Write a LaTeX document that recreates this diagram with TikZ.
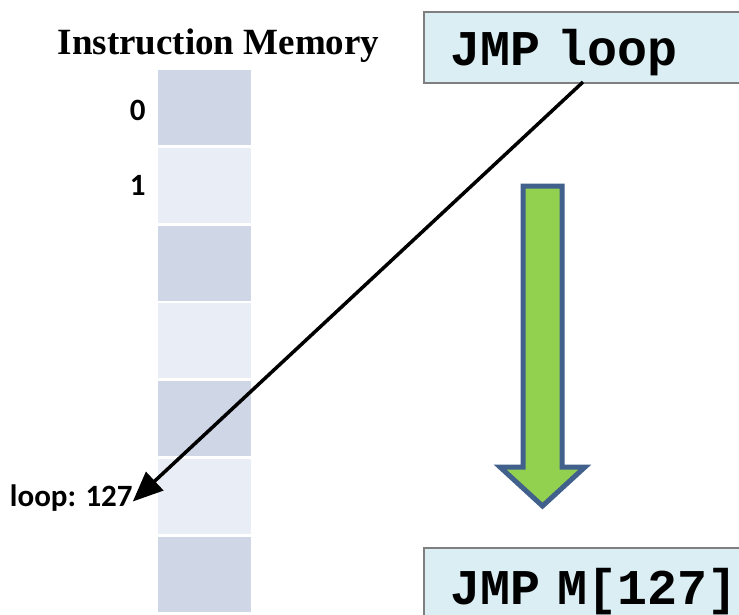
\documentclass[tikz,border=0pt]{standalone}
\usepackage{fontspec}
\setmainfont{Liberation Serif}
\newfontfamily\calib{Carlito}
\newfontfamily\cour{Liberation Mono}
\usetikzlibrary{arrows.meta}
\definecolor{cellA}{HTML}{CFD6E5}
\definecolor{cellB}{HTML}{E9EDF5}
\definecolor{codefill}{HTML}{DAEEF3}
\definecolor{codeline}{HTML}{7F7F7F}
\definecolor{arrfill}{HTML}{92D050}
\definecolor{arrline}{HTML}{41608C}
\newcommand{\lowr}[2]{\raisebox{-#1}[\height][\depth]{#2}}
\begin{document}
\begin{tikzpicture}[x=1pt,y=-1pt,
  cell/.style={minimum width=93pt,minimum height=75pt,inner sep=0pt,draw=none},
  lbl/.style={font=\calib\bfseries\fontsize{31}{33}\selectfont,inner sep=0pt,anchor=east},
  title/.style={font=\bfseries\fontsize{37}{40}\selectfont,inner sep=0pt,anchor=base},
  codebox/.style={draw=codeline,line width=1.5pt,fill=codefill,anchor=north west,
    minimum width=360pt,text width=320pt,align=left,inner xsep=27pt,inner ysep=0pt,
    font=\cour\bfseries\fontsize{50}{52}\selectfont},
  ptr/.style={line width=3.5pt,-{Triangle[length=30pt,width=25pt]}},
  bigarrow/.style={draw=arrline,fill=arrfill,line width=5pt,line join=miter}]
\useasboundingbox (0,0) rectangle (739,614);
\node[title] (ttl) at (218.5,54) {Instruction Memory};
\foreach \i in {0,...,6}{
  \pgfmathparse{mod(\i,2)==0 ? "cellA" : "cellB"}
  \edef\cc{\pgfmathresult}
  \node[cell,fill=\cc] (c\i) at (204.5,{107.5+77.8*\i}) {};
}
\node[lbl] (l0) at ([xshift=-12pt,yshift=-3pt]c0.west) {0};
\node[lbl] (l1) at ([xshift=-12pt,yshift=0pt]c1.west) {1};
\node[lbl] (l127) at ([xshift=-25pt,yshift=-2pt]c5.west) {loop: 127};
\node[codebox,minimum height=71pt] (jl) at (423,11) {\lowr{5pt}{JMP loop}};
\node[codebox,minimum height=80pt] (jm) at (423,547) {\lowr{4pt}{JMP M[127]}};
\coordinate (src) at (583,82);
\draw[ptr] (src) -- ([yshift=-3pt]l127.east);
\draw[bigarrow] (523,186) -- (562,186) -- (562,467) -- (585,467) -- (542.5,506)
  -- (500,467) -- (523,467) -- cycle;
\end{tikzpicture}
\end{document}
